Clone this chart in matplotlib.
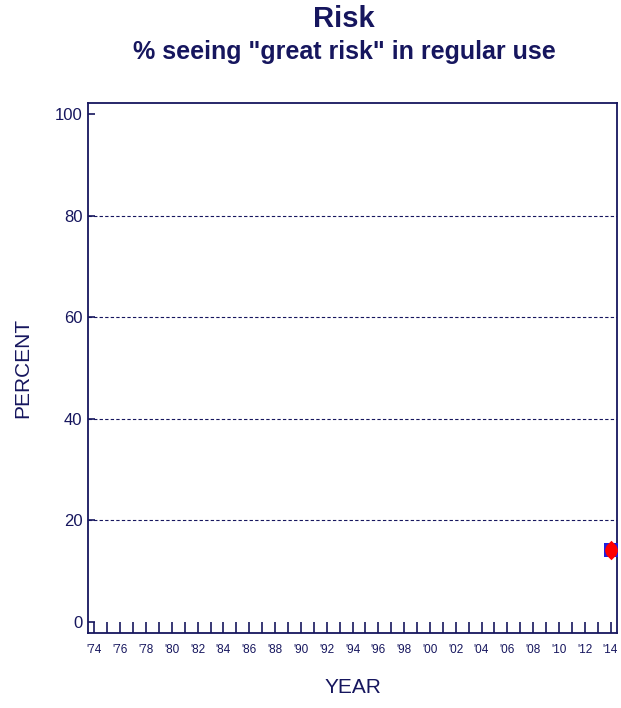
import matplotlib
matplotlib.use("Agg")
import matplotlib.pyplot as plt

plt.rcParams['font.family'] = ['Liberation Sans', 'DejaVu Sans']

navy = '#16165e'

# data
years = [2014]
great_risk_a = [14.1]   # blue square series
great_risk_b = [14.1]   # red diamond series
label_years = list(range(1974, 2015, 2))
tick_years = list(range(1974, 2015))
y_ticks = [0, 20, 40, 60, 80, 100]

# pointed red marker (diamond with rounded shoulders)
pointy = [(0, 1), (0.5, 0.5), (0.65, 0.12), (0.65, -0.12), (0.5, -0.5), (0, -1),
          (-0.5, -0.5), (-0.65, -0.12), (-0.65, 0.12), (-0.5, 0.5), (0, 1)]

fig = plt.figure(figsize=(6.21, 7.08), dpi=100)
ax = fig.add_axes([88/621, 1-633/708, (617-88)/621, (633-103)/708])

ax.plot(years, great_risk_a, marker='s', color='#1f1fe0', markersize=9.6,
        markeredgewidth=0, linestyle='none', zorder=3)
ax.plot(years, great_risk_b, marker=pointy, color='#ff0000', markersize=14,
        markeredgewidth=0, linestyle='none', zorder=4)

ax.set_xlim(1973.5, 2014.5)
ax.set_ylim(-2.2, 102.2)

for yv in y_ticks[1:-1]:
    ax.axhline(yv, color=navy, linestyle=(0, (3, 2)), linewidth=0.8, zorder=1)

ax.set_yticks(y_ticks)
ax.set_yticklabels([str(v) for v in y_ticks], fontsize=12, color=navy)
ax.set_xticks(tick_years)
ax.set_xticklabels(["'%02d" % (y % 100) if y in label_years else '' for y in tick_years],
                   fontsize=8.5, color=navy)
ax.tick_params(axis='both', direction='in', color=navy, width=1.2)
ax.tick_params(axis='x', length=8, pad=8)
ax.tick_params(axis='y', length=5, pad=4)

for s in ax.spines.values():
    s.set_color(navy)
    s.set_linewidth(1.3)

ax.set_ylabel('PERCENT', fontsize=15, color=navy, labelpad=16)
ax.set_xlabel('YEAR', fontsize=15, color=navy, labelpad=16)

fig.text(344/621, 1-19/708, 'Risk', ha='center', va='center', fontsize=21, fontweight='bold', color=navy)
fig.text(344/621, 1-52/708, '% seeing "great risk" in regular use', ha='center', va='center',
         fontsize=18, fontweight='bold', color=navy)

fig.savefig('out.png', dpi=100)
